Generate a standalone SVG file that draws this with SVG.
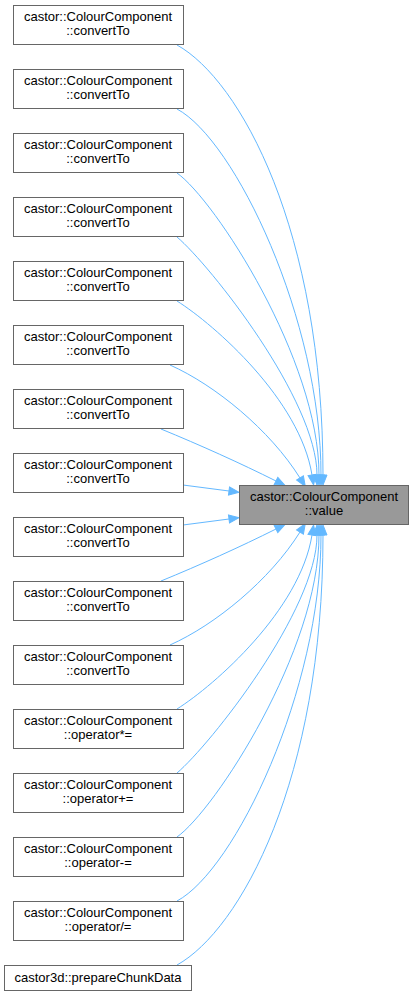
<svg xmlns="http://www.w3.org/2000/svg" width="415" height="997" viewBox="0 0 415 997">
<style>
.n rect{fill:#ffffff;stroke:#666666;stroke-width:1}
.t rect{fill:#999999;stroke:#666666;stroke-width:1}
text{font-family:"Liberation Sans",Arial,sans-serif;font-size:13px;fill:#000000;text-anchor:middle}
.e path{fill:none;stroke:#63b8ff;stroke-width:1;marker-end:url(#arr)}
</style>
<defs>
<marker id="arr" markerWidth="12" markerHeight="10" refX="0" refY="0" viewBox="0 -5 12 10" orient="auto" markerUnits="userSpaceOnUse" overflow="visible">
<path d="M0,-4 L10,0 L0,4 Z" fill="#63b8ff" stroke="#63b8ff" stroke-width="1"/>
</marker>
</defs>
<rect width="415" height="997" fill="#ffffff"/>
<g id="edges" class="e">
<path d="M177,45 C240,80 323,230 323,475"/>
<path d="M177,109 C235,140 321,320 321,475"/>
<path d="M177,173 C215,200 319,360 319,475"/>
<path d="M177,237 C210,265 317,400 317,475"/>
<path d="M177,301 C215,325 300,400 312,475"/>
<path d="M170,365 C215,385 270,430 300,478"/>
<path d="M161,429 C200,445 240,463 276,481"/>
<path d="M183,485 L229,491"/>
<path d="M183,525 L229,519"/>
<path d="M161,581 C200,565 240,547 276,529"/>
<path d="M170,645 C215,625 270,580 300,532"/>
<path d="M177,709 C215,685 300,610 312,535"/>
<path d="M177,773 C210,745 317,610 317,535"/>
<path d="M177,837 C215,810 319,650 319,535"/>
<path d="M177,901 C235,870 321,690 321,535"/>
<path d="M177,965 C240,930 323,780 323,535"/>
</g>
<g id="target" class="t">
<rect x="239.5" y="485.5" width="169" height="39"/>
<text x="324" y="501">castor::ColourComponent</text>
<text x="324" y="515">::value</text>
</g>
<g id="n1" class="n"><rect x="13.5" y="5.5" width="170" height="39"/><text x="98" y="21">castor::ColourComponent</text><text x="98" y="35">::convertTo</text></g>
<g id="n2" class="n"><rect x="13.5" y="69.5" width="170" height="39"/><text x="98" y="85">castor::ColourComponent</text><text x="98" y="99">::convertTo</text></g>
<g id="n3" class="n"><rect x="13.5" y="133.5" width="170" height="39"/><text x="98" y="149">castor::ColourComponent</text><text x="98" y="163">::convertTo</text></g>
<g id="n4" class="n"><rect x="13.5" y="197.5" width="170" height="39"/><text x="98" y="213">castor::ColourComponent</text><text x="98" y="227">::convertTo</text></g>
<g id="n5" class="n"><rect x="13.5" y="261.5" width="170" height="39"/><text x="98" y="277">castor::ColourComponent</text><text x="98" y="291">::convertTo</text></g>
<g id="n6" class="n"><rect x="13.5" y="325.5" width="170" height="39"/><text x="98" y="341">castor::ColourComponent</text><text x="98" y="355">::convertTo</text></g>
<g id="n7" class="n"><rect x="13.5" y="389.5" width="170" height="39"/><text x="98" y="405">castor::ColourComponent</text><text x="98" y="419">::convertTo</text></g>
<g id="n8" class="n"><rect x="13.5" y="453.5" width="170" height="39"/><text x="98" y="469">castor::ColourComponent</text><text x="98" y="483">::convertTo</text></g>
<g id="n9" class="n"><rect x="13.5" y="517.5" width="170" height="39"/><text x="98" y="533">castor::ColourComponent</text><text x="98" y="547">::convertTo</text></g>
<g id="n10" class="n"><rect x="13.5" y="581.5" width="170" height="39"/><text x="98" y="597">castor::ColourComponent</text><text x="98" y="611">::convertTo</text></g>
<g id="n11" class="n"><rect x="13.5" y="645.5" width="170" height="39"/><text x="98" y="661">castor::ColourComponent</text><text x="98" y="675">::convertTo</text></g>
<g id="n12" class="n"><rect x="13.5" y="709.5" width="170" height="39"/><text x="98" y="725">castor::ColourComponent</text><text x="98" y="739">::operator*=</text></g>
<g id="n13" class="n"><rect x="13.5" y="773.5" width="170" height="39"/><text x="98" y="789">castor::ColourComponent</text><text x="98" y="803">::operator+=</text></g>
<g id="n14" class="n"><rect x="13.5" y="837.5" width="170" height="39"/><text x="98" y="853">castor::ColourComponent</text><text x="98" y="867">::operator-=</text></g>
<g id="n15" class="n"><rect x="13.5" y="901.5" width="170" height="39"/><text x="98" y="917">castor::ColourComponent</text><text x="98" y="931">::operator/=</text></g>
<g id="n16" class="n"><rect x="4.5" y="965.5" width="187" height="25"/><text x="98" y="982">castor3d::prepareChunkData</text></g>
</svg>
